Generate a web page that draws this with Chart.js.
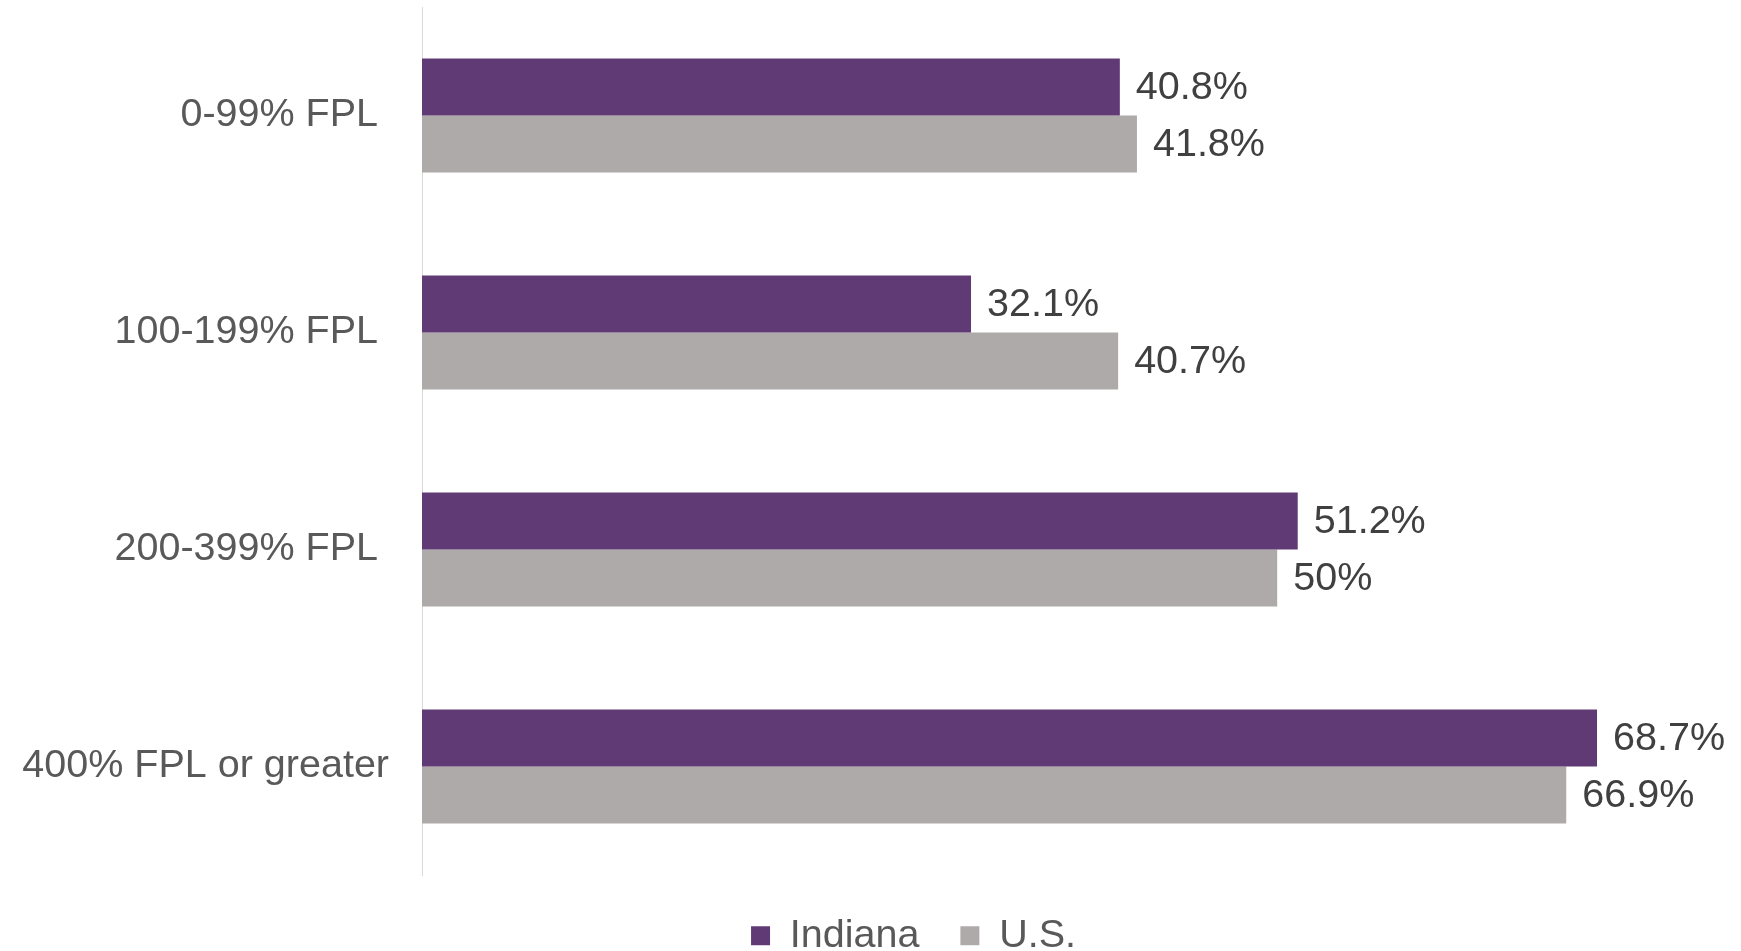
<!DOCTYPE html>
<html>
<head>
<meta charset="utf-8">
<script src="https://cdn.jsdelivr.net/npm/chart.js@4"></script>
<style>
  html, body { margin: 0; padding: 0; background: #fff; }
  #wrap { width: 1741px; height: 951px; }
</style>
</head>
<body>
<div id="wrap"><canvas id="myChart"></canvas></div>
<script>
const categories = ["0-99% FPL ", "100-199% FPL ", "200-399% FPL ", "400% FPL or greater"];
const indiana = [40.8, 32.1, 51.2, 68.7];
const us = [41.8, 40.7, 50, 66.9];
const seriesNames = ["Indiana", "U.S."];

const FONT = "'Liberation Sans', Arial, sans-serif";

// draw the value labels to the right of each bar
const valueLabels = {
    id: "valueLabels",
    afterLayout(chart) {
        // the legend in the original sits a bit right of the page centre
        chart.legend.left += 40;
        chart.legend.right += 40;
    },
    afterDatasetsDraw(chart) {
        const ctx = chart.ctx;
        ctx.save();
        ctx.font = "39.5px " + FONT;
        ctx.fillStyle = "#404040";
        ctx.textAlign = "left";
        ctx.textBaseline = "middle";
        chart.data.datasets.forEach((ds, i) => {
            chart.getDatasetMeta(i).data.forEach((bar, j) => {
                ctx.fillText(ds.data[j] + "%", bar.x + 16, bar.y + 1);
            });
        });
        ctx.restore();
    },
};

const ctx = document.getElementById("myChart").getContext("2d");

new Chart(ctx, {
    type: "bar",
    data: {
        labels: categories,
        datasets: [{
            label: seriesNames[0],
            data: indiana,
            backgroundColor: "#603A75",
        }, {
            label: seriesNames[1],
            data: us,
            backgroundColor: "#AEAAAA",
        }],
    },
    options: {
        indexAxis: "y",
        responsive: true,
        maintainAspectRatio: false,
        animation: false,
        categoryPercentage: 0.525,
        barPercentage: 1,
        layout: {
            padding: { left: 8, right: 2, top: 7, bottom: 0 },
        },
        scales: {
            x: {
                display: false,
                min: 0,
                max: 77,
            },
            y: {
                grid: { display: false, drawTicks: false },
                border: { display: true, color: "#D9D9D9", width: 1 },
                ticks: {
                    color: "#595959",
                    font: { family: FONT, size: 39.5 },
                    padding: 33,
                },
                afterFit(scale) {
                    scale.width = 414;
                    scale.paddingTop = 0;
                    scale.paddingBottom = 0;
                },
            },
        },
        plugins: {
            legend: {
                position: "bottom",
                maxHeight: 76,
                labels: {
                    color: "#595959",
                    font: { family: FONT, size: 39.5 },
                    boxWidth: 19,
                    boxHeight: 19,
                    padding: 41,
                },
            },
            tooltip: { enabled: false },
        },
    },
    plugins: [valueLabels],
});
</script>
</body>
</html>
